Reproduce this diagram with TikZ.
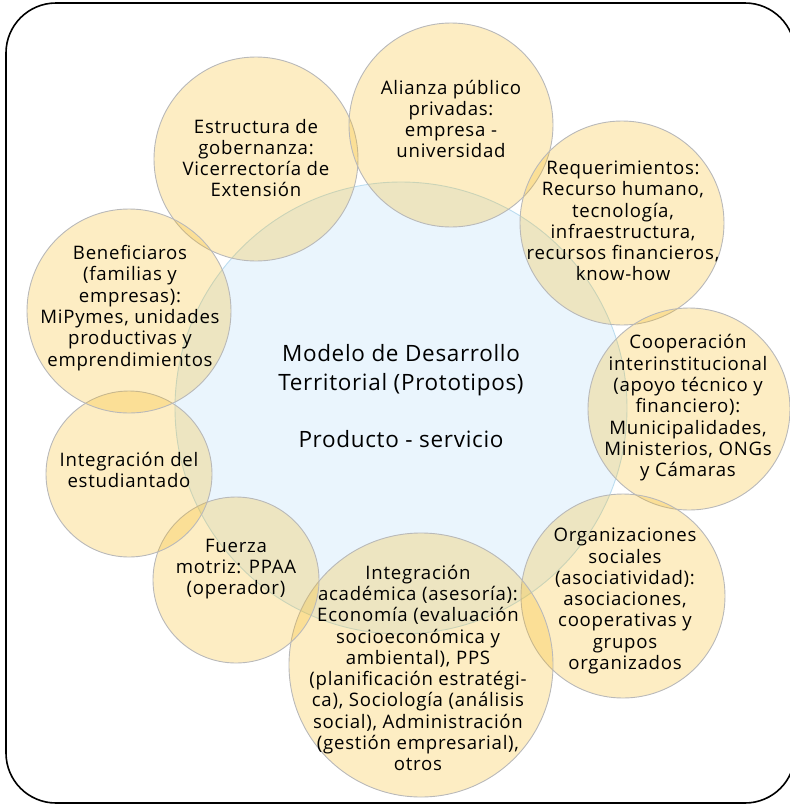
\documentclass[tikz,border=0pt]{standalone}
\usepackage{fontspec}
\setmainfont{Open Sans}
\newfontfamily\smallfam{Open Sans}[LetterSpace=4.0]
\newfontfamily\bigfam{Open Sans}[LetterSpace=3.0]
\definecolor{ybase}{RGB}{247,183,15}
\definecolor{bfill}{RGB}{234,245,253}
\definecolor{bline}{RGB}{188,221,240}
\definecolor{yline}{RGB}{185,185,185}
\tikzset{
  ycirc/.style={circle, draw=yline, line width=0.9pt, fill=ybase, fill opacity=0.25, draw opacity=1, inner sep=0pt},
  bcirc/.style={circle, draw=bline, line width=0.9pt, fill=bfill, inner sep=0pt},
  smalltxt/.style={align=center, font=\smallfam\fontsize{18.6}{21.3}\selectfont, text=black, inner sep=0pt},
  bigtxt/.style={align=center, font=\bigfam\fontsize{22.5}{28.7}\selectfont, text=black, inner sep=0pt},
  frame/.style={draw=black, line width=1.6pt, rounded corners=50pt}
}
\begin{document}
\begin{tikzpicture}[x=1pt,y=-1pt]
\useasboundingbox (0,0) rectangle (790,804);
\clip (0,0) rectangle (790,804);
\draw[frame] (6,3) rectangle (795,803);
% central circle
\node[bcirc, minimum size=452pt] (cen) at (401,408) {};
% outer circles
\node[ycirc, minimum size=204pt] (estr) at (256,159) {};
\node[ycirc, minimum size=204pt] (alia) at (451,125) {};
\node[ycirc, minimum size=204pt] (requ) at (622,223) {};
\node[ycirc, minimum size=202pt] (coop) at (689,409) {};
\node[ycirc, minimum size=204pt] (orga) at (623,596) {};
\node[ycirc, minimum size=264pt] (acad) at (421,665) {};
\node[ycirc, minimum size=166pt] (fuer) at (236,580) {};
\node[ycirc, minimum size=166pt] (estu) at (129,474) {};
\node[ycirc, minimum size=204pt] (bene) at (129,311) {};
% texts
\node[bigtxt] (tcen) at (401,396) {Modelo de Desarrollo\\Territorial (Prototipos)\\[28.7pt]Producto - servicio};
\node[smalltxt] (testr) at (256,158) {Estructura de\\gobernanza:\\Vicerrectoría de\\Extensión};
\node[smalltxt] (talia) at (451,119) {Alianza público\\privadas:\\empresa -\\universidad};
\node[smalltxt] (trequ) at (623,221) {Requerimientos:\\Recurso humano,\\tecnología,\\infraestructura,\\recursos financieros,\\know-how};
\node[smalltxt] (tcoop) at (688,408) {Cooperación\\interinstitucional\\(apoyo técnico y\\financiero):\\Municipalidades,\\Ministerios, ONGs\\y Cámaras};
\node[smalltxt] (torga) at (625,601) {Organizaciones\\sociales\\(asociatividad):\\asociaciones,\\cooperativas y\\grupos\\organizados};
\node[smalltxt] (tacad) at (418,668) {Integración\\académica (asesoría):\\Economía (evaluación\\socioeconómica y\\ambiental), PPS\\(planificación estratégi-\\ca), Sociología (análisis\\social), Administración\\(gestión empresarial),\\otros};
\node[smalltxt] (tfuer) at (236,569) {Fuerza\\motriz: PPAA\\(operador)};
\node[smalltxt] (testu) at (129,470) {Integración del\\estudiantado};
\node[smalltxt] (tbene) at (130,308) {Beneficiaros\\(familias y\\empresas):\\MiPymes, unidades\\productivas y\\emprendimientos};
\end{tikzpicture}
\end{document}
